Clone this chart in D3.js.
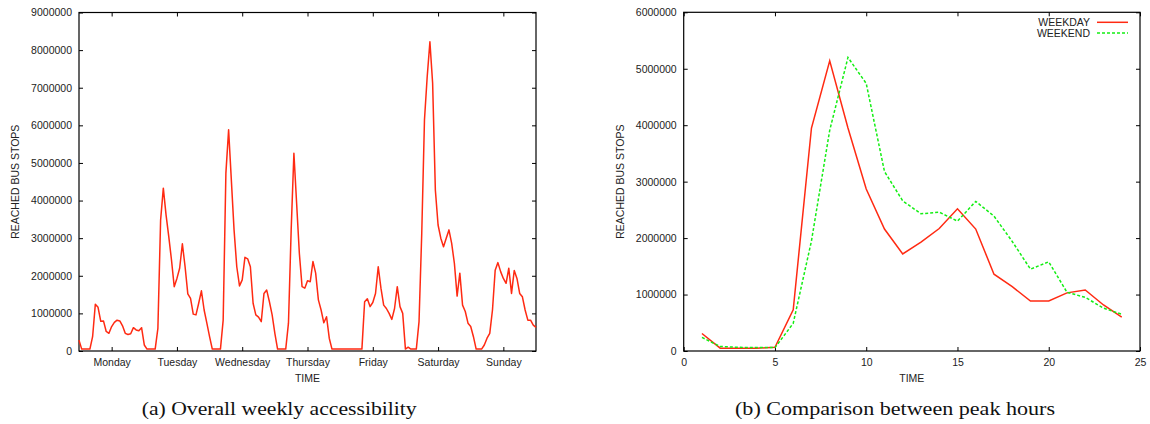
<!DOCTYPE html>
<html lang="en">
<head>
    <meta charset="UTF-8">
    <title>Reached bus stops</title>
    <script src="https://cdn.jsdelivr.net/npm/d3@7"></script>
    <style>
        body { margin: 0; background: #fff; }
        text { font-family: "Liberation Sans", Arial, sans-serif; fill: #222; }
        .caption { font-family: "Liberation Serif", "Times New Roman", serif; fill: #111; }
    </style>
</head>
<body>
<svg width="1150" height="424"></svg>
<script>
    // (a) hourly reached bus stops over the week, hour 0 .. 168
    var weeklyReached = [
        290000, 50000, 50000, 50000, 50000, 380000, 1240000, 1160000, 790000, 800000,
        520000, 470000, 650000, 760000, 820000, 800000, 670000, 470000, 440000, 460000,
        620000, 560000, 540000, 620000, 160000, 50000, 50000, 50000, 50000, 600000,
        3480000, 4330000, 3620000, 3040000, 2420000, 1710000, 1930000, 2200000, 2850000, 2240000,
        1520000, 1400000, 980000, 960000, 1270000, 1600000, 1090000, 740000, 380000, 50000,
        50000, 50000, 50000, 820000, 4730000, 5880000, 4550000, 3220000, 2240000, 1730000,
        1890000, 2490000, 2450000, 2240000, 1270000, 960000, 900000, 780000, 1530000, 1620000,
        1310000, 960000, 470000, 50000, 50000, 50000, 50000, 740000, 3220000, 5260000,
        3930000, 2600000, 1710000, 1670000, 1870000, 1840000, 2380000, 2070000, 1360000, 1090000,
        750000, 910000, 340000, 50000, 50000, 50000, 50000, 50000, 50000, 50000,
        50000, 50000, 50000, 50000, 50000, 1310000, 1390000, 1180000, 1290000, 1530000,
        2240000, 1670000, 1220000, 1130000, 1000000, 840000, 1130000, 1710000, 1180000, 1000000,
        50000, 100000, 50000, 50000, 50000, 780000, 3130000, 6140000, 7290000, 8220000,
        7120000, 4280000, 3350000, 3000000, 2770000, 3000000, 3220000, 2860000, 2330000, 1460000,
        2070000, 1220000, 1050000, 740000, 650000, 380000, 50000, 50000, 50000, 160000,
        340000, 470000, 1090000, 2150000, 2350000, 2110000, 1930000, 1800000, 2200000, 1530000,
        2140000, 1930000, 1530000, 1440000, 1090000, 820000, 820000, 690000, 630000
    ];
    var days = ["Monday", "Tuesday", "Wednesday", "Thursday", "Friday", "Saturday", "Sunday"];
    var weeklyTicks = [0, 1000000, 2000000, 3000000, 4000000, 5000000, 6000000, 7000000, 8000000, 9000000];

    // (b) hour of day, weekday vs weekend
    var hours = [1, 2, 3, 4, 5, 6, 7, 8, 9, 10, 11, 12, 13, 14, 15, 16, 17, 18, 19, 20, 21, 22, 23, 24];
    var weekday = [310000, 50000, 50000, 50000, 65000, 730000, 3950000, 5140000, 3950000, 2870000,
        2160000, 1720000, 1930000, 2170000, 2520000, 2160000, 1360000, 1140000, 886000, 886000,
        1030000, 1080000, 815000, 600000];
    var weekend = [240000, 80000, 65000, 60000, 60000, 490000, 1950000, 3910000, 5200000, 4740000,
        3180000, 2660000, 2430000, 2460000, 2300000, 2650000, 2390000, 1940000, 1450000, 1580000,
        1040000, 950000, 760000, 650000];
    var hourTicks = [0, 5, 10, 15, 20, 25];
    var peakTicks = [0, 1000000, 2000000, 3000000, 4000000, 5000000, 6000000];
    var seriesNames = ["WEEKDAY", "WEEKEND"];

    var red = "#ff2a12", green = "#14ee14";
    var svg = d3.select("svg");

    // draws a gnuplot style frame with inward, mirrored ticks
    function frame(g, x, y, w, h, xTicks, xFmt, yTicks) {
        var bottom = g.append("g").attr("transform", "translate(0," + h + ")")
            .call(d3.axisBottom(x).tickValues(xTicks).tickFormat(xFmt)
                .tickSizeInner(-4).tickSizeOuter(0).tickPadding(8));
        var top = g.append("g")
            .call(d3.axisTop(x).tickValues(xTicks).tickFormat("")
                .tickSizeInner(-4).tickSizeOuter(0));
        var left = g.append("g")
            .call(d3.axisLeft(y).tickValues(yTicks).tickFormat(d3.format("d"))
                .tickSizeInner(-4).tickSizeOuter(0).tickPadding(7));
        var right = g.append("g").attr("transform", "translate(" + w + ",0)")
            .call(d3.axisRight(y).tickValues(yTicks).tickFormat("")
                .tickSizeInner(-4).tickSizeOuter(0));
        [bottom, top, left, right].forEach(function(a){
            a.select(".domain").remove();
            a.selectAll("line").attr("stroke", "#000");
            a.selectAll("text").attr("font-size", "10.5px").attr("fill", "#222")
                .attr("font-family", "Liberation Sans, Arial, sans-serif");
        });
        g.append("rect")
            .attr("width", w).attr("height", h)
            .attr("fill", "none").attr("stroke", "#000").attr("stroke-width", 1.2);
        g.append("text")
            .attr("x", w / 2).attr("y", h + 31)
            .attr("text-anchor", "middle").attr("font-size", "10.5px")
            .text("TIME");
    }

    /************ (a) weekly ************/
    var aL = 79, aT = 12.5, aW = 457, aH = 338.5;
    var ga = svg.append("g").attr("transform", "translate(" + aL + "," + aT + ")");
    var xa = d3.scaleLinear().domain([0, weeklyReached.length - 1]).range([0, aW]);
    var ya = d3.scaleLinear().domain([0, 9000000]).range([aH, 0]);
    var dayTicks = days.map(function(d, i){ return i * 24 + 12; });
    frame(ga, xa, ya, aW, aH, dayTicks, function(d){ return days[(d - 12) / 24]; }, weeklyTicks);

    ga.append("path")
        .datum(weeklyReached)
        .attr("fill", "none")
        .attr("stroke", red)
        .attr("stroke-width", 1.5)
        .attr("stroke-linejoin", "round")
        .attr("d", d3.line().x(function(d, i){ return xa(i); }).y(function(d){ return ya(d); }));

    svg.append("text")
        .attr("transform", "translate(19," + (aT + aH / 2) + ") rotate(-90)")
        .attr("text-anchor", "middle").attr("font-size", "10.5px")
        .text("REACHED BUS STOPS");

    /************ (b) peak hours ************/
    var bL = 683.7, bT = 12.3, bW = 456.3, bH = 338.7;
    var gb = svg.append("g").attr("transform", "translate(" + bL + "," + bT + ")");
    var xb = d3.scaleLinear().domain([0, 25]).range([0, bW]);
    var yb = d3.scaleLinear().domain([0, 6000000]).range([bH, 0]);
    frame(gb, xb, yb, bW, bH, hourTicks, d3.format("d"), peakTicks);

    var lineB = d3.line().x(function(d){ return xb(d[0]); }).y(function(d){ return yb(d[1]); });
    var series = [
        { name: seriesNames[0], values: weekday, color: red, dash: null },
        { name: seriesNames[1], values: weekend, color: green, dash: "3,2" }
    ];
    series.forEach(function(s){
        gb.append("path")
            .datum(hours.map(function(h, i){ return [h, s.values[i]]; }))
            .attr("fill", "none")
            .attr("stroke", s.color)
            .attr("stroke-width", 1.5)
            .attr("stroke-dasharray", s.dash)
            .attr("d", lineB);
    });

    // legend
    var legend = svg.append("g")
        .selectAll("g")
        .data(series)
        .enter().append("g")
        .attr("transform", function(d, i){ return "translate(1090," + (22.3 + i * 10.7) + ")"; });
    legend.append("text")
        .attr("text-anchor", "end").attr("dy", "0.35em").attr("font-size", "10.5px")
        .text(function(d){ return d.name; });
    legend.append("line")
        .attr("x1", 7).attr("x2", 38)
        .attr("stroke", function(d){ return d.color; })
        .attr("stroke-width", 1.5)
        .attr("stroke-dasharray", function(d){ return d.dash; });

    svg.append("text")
        .attr("transform", "translate(624," + (bT + bH / 2) + ") rotate(-90)")
        .attr("text-anchor", "middle").attr("font-size", "10.5px")
        .text("REACHED BUS STOPS");

    /************ captions ************/
    svg.append("text").attr("class", "caption")
        .attr("x", 141.7).attr("y", 414.5).attr("font-size", "18px")
        .attr("textLength", 275).attr("lengthAdjust", "spacingAndGlyphs")
        .text("(a) Overall weekly accessibility");
    svg.append("text").attr("class", "caption")
        .attr("x", 735).attr("y", 414.5).attr("font-size", "18px")
        .attr("textLength", 320).attr("lengthAdjust", "spacingAndGlyphs")
        .text("(b) Comparison between peak hours");
</script>
</body>
</html>
